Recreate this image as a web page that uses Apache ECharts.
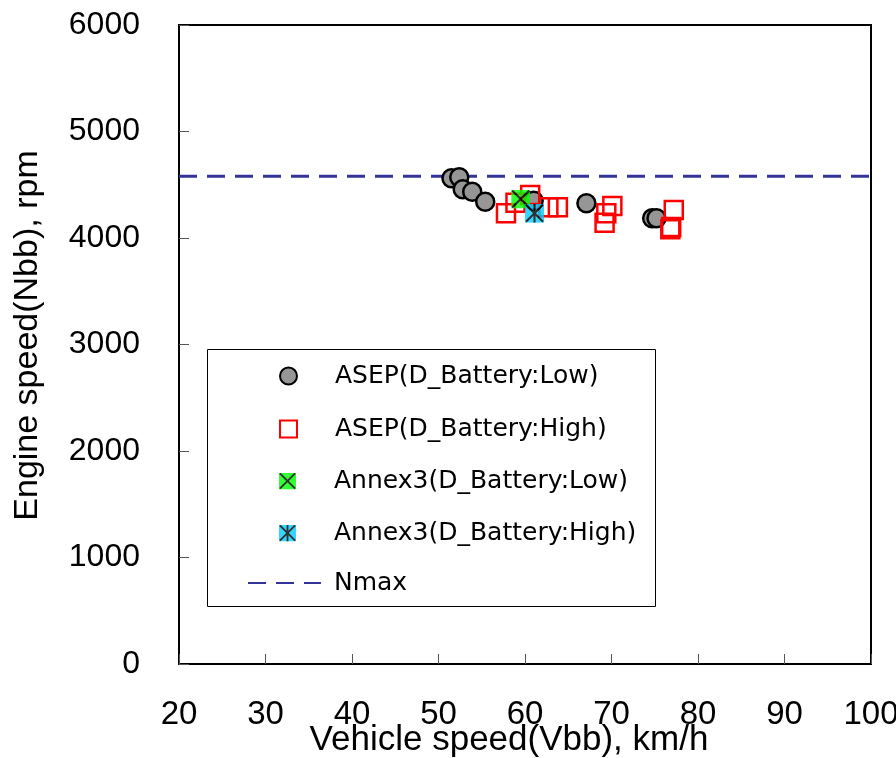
<!DOCTYPE html>
<html>
<head>
<meta charset="utf-8">
<script src="https://cdn.jsdelivr.net/npm/echarts@6/dist/echarts.min.js"></script>
<style>html,body{margin:0;padding:0;background:#fff;}#c{width:896px;height:758px;}</style>
</head>
<body>
<div id="c"></div>
<script>
// ---- data ----
var asepLowX = [51.5, 52.4, 52.8, 53.9, 55.4, 61.0, 67.1, 74.7, 75.2];
var asepLowY = [4561, 4570, 4457, 4435, 4341, 4350, 4326, 4185, 4185];
var asepHighX = [57.8, 58.9, 60.6, 62.7, 63.8, 69.2, 69.4, 70.1, 76.8, 76.9, 77.2];
var asepHighY = [4232, 4331, 4404, 4288, 4288, 4144, 4232, 4300, 4082, 4103, 4263];
var annexLowX = [59.5];
var annexLowY = [4366];
var annexHighX = [61.1];
var annexHighY = [4232];
var nmaxX = [20, 100];
var nmaxY = [4580, 4580];
var xTicks = [20, 30, 40, 50, 60, 70, 80, 90, 100];
var yTicks = [0, 1000, 2000, 3000, 4000, 5000, 6000];
var names = ['ASEP(D_Battery:Low)', 'ASEP(D_Battery:High)', 'Annex3(D_Battery:Low)', 'Annex3(D_Battery:High)', 'Nmax'];

function pairs(xs, ys) { return xs.map(function (x, i) { return [x, ys[i]]; }); }

var svgLow = '<svg xmlns="http://www.w3.org/2000/svg" width="20" height="20" viewBox="0 0 20 20"><rect x="0" y="0" width="20" height="20" fill="#00ff00"/><path d="M1 1L19 19M19 1L1 19" stroke="#000" stroke-width="2.2"/></svg>';
var svgHigh = '<svg xmlns="http://www.w3.org/2000/svg" width="20" height="20" viewBox="0 0 20 20"><rect x="0" y="0" width="20" height="20" fill="#00ccff"/><path d="M1 1L19 19M19 1L1 19M10 0L10 20" stroke="#000" stroke-width="2.2"/></svg>';
var imgLow = 'image://data:image/svg+xml;charset=utf-8,' + encodeURIComponent(svgLow);
var imgHigh = 'image://data:image/svg+xml;charset=utf-8,' + encodeURIComponent(svgHigh);

var legendFont = { fontFamily: 'DejaVu Sans', fontSize: 25, color: '#000', lineHeight: 30, padding: [0, 0, 0, 33] };
var rowsY = [376, 429, 481, 533];
var legends = [];
for (var i = 0; i < 4; i++) {
  legends.push({
    left: 279, top: rowsY[i] - 15, orient: 'vertical', selectedMode: false, z: 20,
    itemWidth: 17, itemHeight: 17, padding: 0,
    data: [{ name: names[i], icon: i === 0 ? 'circle' : (i === 1 ? 'rect' : (i === 2 ? imgLow : imgHigh)) }],
    textStyle: legendFont
  });
}
legends.push({
  left: 247, top: 583 - 15, selectedMode: false, itemWidth: 73, itemHeight: 16, padding: 0, z: 20,
  data: [{ name: names[4], itemStyle: { opacity: 0 } }],
  textStyle: { fontFamily: 'DejaVu Sans', fontSize: 25, color: '#000', lineHeight: 30, padding: [0, 0, 0, 8] }
});

var chart = echarts.init(document.getElementById('c'), null, { renderer: 'canvas' });
chart.setOption({
  animation: false,
  backgroundColor: '#fff',
  grid: { left: 179, top: 25, width: 692, height: 639, outerBoundsMode: 'none', containLabel: false, show: true, borderColor: '#000', borderWidth: 2, backgroundColor: 'transparent' },
  legend: legends,
  graphic: [{
    type: 'rect', left: 207, top: 349, z: 6,
    shape: { width: 448, height: 257 },
    style: { fill: '#fff', stroke: '#000', lineWidth: 1 }
  }],
  xAxis: {
    type: 'value', min: xTicks[0], max: xTicks[xTicks.length - 1], interval: 10,
    axisLine: { show: true, lineStyle: { color: '#000', width: 2 } },
    axisTick: { show: true, inside: true, length: 10, lineStyle: { color: '#555', width: 1 } },
    axisLabel: { margin: 34, fontFamily: 'Liberation Sans', fontSize: 33, color: '#000', formatter: function (v) { return String(v); } },
    splitLine: { show: false },
    name: 'Vehicle speed(Vbb), km/h', nameLocation: 'middle', nameGap: 59, nameMoveOverlap: false,
    nameTextStyle: { fontFamily: 'Liberation Sans', fontSize: 35, color: '#000', padding: [0, 32, 0, 0] }
  },
  yAxis: {
    type: 'value', min: yTicks[0], max: yTicks[yTicks.length - 1], interval: 1000,
    axisLine: { show: true, lineStyle: { color: '#000', width: 2 } },
    axisTick: { show: true, inside: true, length: 10, lineStyle: { color: '#555', width: 1 } },
    axisLabel: { margin: 39, fontFamily: 'Liberation Sans', fontSize: 32, color: '#000', formatter: function (v) { return String(v); } },
    splitLine: { show: false },
    name: 'Engine speed(Nbb), rpm', nameLocation: 'middle', nameGap: 134, nameMoveOverlap: false,
    nameTextStyle: { fontFamily: 'Liberation Sans', fontSize: 34, color: '#000', padding: [0, 0, 0, 18] }
  },
  series: [
    { name: names[4], type: 'line', data: pairs(nmaxX, nmaxY), symbol: 'none', z: 1,
      lineStyle: { color: '#333399', width: 3, type: [18, 10] }, itemStyle: { color: '#333399' } },
    { name: names[0], type: 'scatter', data: pairs(asepLowX, asepLowY), symbol: 'circle', symbolSize: 18, z: 3,
      itemStyle: { color: '#969696', borderColor: '#000', borderWidth: 2.5, opacity: 1 } },
    { name: names[1], type: 'scatter', data: pairs(asepHighX, asepHighY), symbol: 'rect', symbolSize: 18, z: 4,
      itemStyle: { color: 'rgba(255,255,255,0)', borderColor: '#ff0000', borderWidth: 2.5, opacity: 1 } },
    { name: names[2], type: 'scatter', data: pairs(annexLowX, annexLowY), symbol: imgLow, symbolSize: 19, z: 5,
      itemStyle: { color: '#00ff00' } },
    { name: names[3], type: 'scatter', data: pairs(annexHighX, annexHighY), symbol: imgHigh, symbolSize: 19, z: 5,
      itemStyle: { color: '#00ccff' } }
  ]
});
</script>
</body>
</html>
